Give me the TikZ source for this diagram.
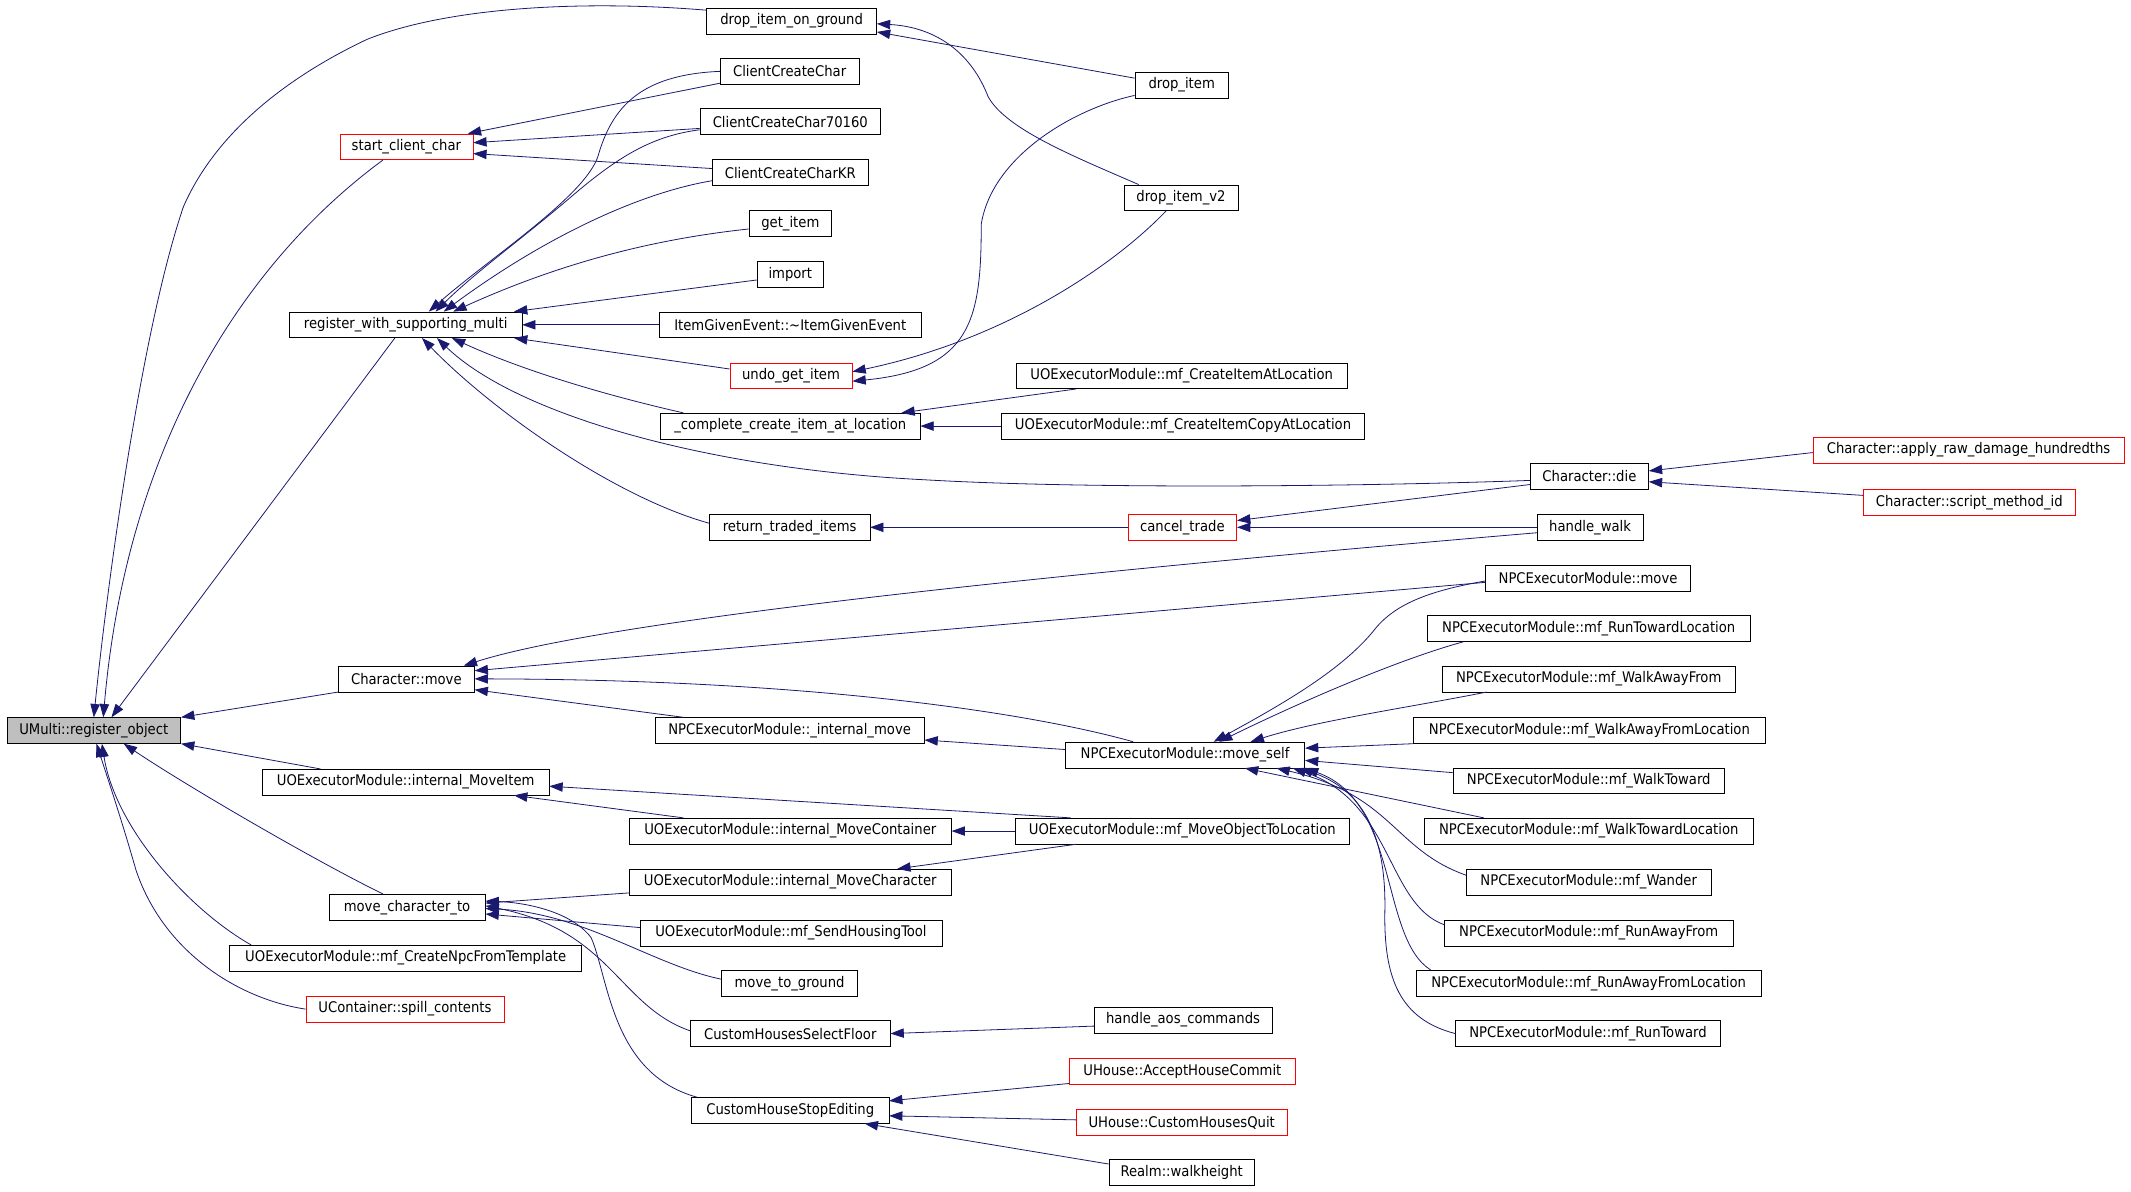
\documentclass[tikz,border=0pt]{standalone}
\usepackage{fontspec}
\setmainfont{DejaVu Sans Condensed}
\usetikzlibrary{arrows.meta,calc}
\definecolor{edgeblue}{RGB}{25,25,112}

\tikzset{
  fn/.style={draw=black, inner sep=0pt, minimum height=19.4pt, font=\fontsize{11}{13}\selectfont},
  bw/.style={minimum width=#1*1.0193pt},
  hot/.style={fn, draw=red},
  root/.style={fn, fill=black!25},
  call/.style={draw=edgeblue, line width=0.6pt, -{Triangle[length=10pt,width=7pt]}}
}

\begin{document}
\begin{tikzpicture}[x=1.0193pt, y=-1.0193pt]
\useasboundingbox (0,0) rectangle (1568,877);

% column 1 and 2
\node[root, bw=128] (regobj) at (69,537.5) {UMulti::register\_object};
\node[hot, bw=98] (startcc) at (299,108) {start\_client\_char};
\node[fn, bw=171] (rwsm) at (298.5,239) {register\_with\_supporting\_multi};
\node[fn, bw=100] (charmove) at (299,499.5) {Character::move};
\node[fn, bw=211] (moveitem) at (298.5,575.5) {UOExecutorModule::internal\_MoveItem};
\node[fn, bw=115] (mct) at (299.5,667.5) {move\_character\_to};
\node[fn, bw=259] (npctpl) at (298.5,705) {UOExecutorModule::mf\_CreateNpcFromTemplate};
\node[hot, bw=146] (spill) at (298,742.5) {UContainer::spill\_contents};

% column 3
\node[fn, bw=125] (dropground) at (582.5,15.5) {drop\_item\_on\_ground};
\node[fn, bw=102] (ccc) at (581,52.5) {ClientCreateChar};
\node[fn, bw=133] (ccc7) at (581.5,89.5) {ClientCreateChar70160};
\node[fn, bw=115] (ccckr) at (581.5,127) {ClientCreateCharKR};
\node[fn, bw=61] (getitem) at (581.5,164.5) {get\_item};
\node[fn, bw=49] (import) at (581.5,202) {import};
\node[fn, bw=193] (igev) at (581.5,239) {ItemGivenEvent::\textasciitilde ItemGivenEvent};
\node[hot, bw=90] (undoget) at (582,276.5) {undo\_get\_item};
\node[fn, bw=191] (ccial) at (581.5,313.5) {\_complete\_create\_item\_at\_location};
\node[fn, bw=118] (rti) at (581,388) {return\_traded\_items};
\node[fn, bw=198] (intmove) at (581,537.5) {NPCExecutorModule::\_internal\_move};
\node[fn, bw=237] (movecont) at (581.5,611.5) {UOExecutorModule::internal\_MoveContainer};
\node[fn, bw=237] (movechar) at (581.5,649) {UOExecutorModule::internal\_MoveCharacter};
\node[fn, bw=222] (sendtool) at (582,686.5) {UOExecutorModule::mf\_SendHousingTool};
\node[fn, bw=100] (mtg) at (581,723.5) {move\_to\_ground};
\node[fn, bw=147] (chsf) at (581.5,760.5) {CustomHousesSelectFloor};
\node[fn, bw=145] (chse) at (581.5,817) {CustomHouseStopEditing};

% column 4
\node[fn, bw=69] (dropitem) at (869.5,62.5) {drop\_item};
\node[fn, bw=84] (dropv2) at (869,145.5) {drop\_item\_v2};
\node[fn, bw=243] (mfcial) at (869.5,276.5) {UOExecutorModule::mf\_CreateItemAtLocation};
\node[fn, bw=267] (mfcicl) at (870.5,313.5) {UOExecutorModule::mf\_CreateItemCopyAtLocation};
\node[hot, bw=80] (canceltrade) at (870,388) {cancel\_trade};
\node[fn, bw=176] (moveself) at (872,555.5) {NPCExecutorModule::move\_self};
\node[fn, bw=246] (motl) at (870,611.5) {UOExecutorModule::mf\_MoveObjectToLocation};
\node[fn, bw=131] (aos) at (870.5,750.5) {handle\_aos\_commands};
\node[hot, bw=166] (accept) at (870,788.5) {UHouse::AcceptHouseCommit};
\node[hot, bw=155] (quit) at (869.5,826) {UHouse::CustomHousesQuit};
\node[fn, bw=107] (walkh) at (869.5,862.5) {Realm::walkheight};

% column 5 and 6
\node[fn, bw=87] (die) at (1169.5,350.5) {Character::die};
\node[fn, bw=78] (walk) at (1170,388) {handle\_walk};
\node[fn, bw=151] (npcmove) at (1168.5,425.5) {NPCExecutorModule::move};
\node[fn, bw=238] (rtl) at (1169,462.5) {NPCExecutorModule::mf\_RunTowardLocation};
\node[fn, bw=216] (waf) at (1169,499.5) {NPCExecutorModule::mf\_WalkAwayFrom};
\node[fn, bw=259] (wafl) at (1169.5,537.5) {NPCExecutorModule::mf\_WalkAwayFromLocation};
\node[fn, bw=200] (wt) at (1169,574.5) {NPCExecutorModule::mf\_WalkToward};
\node[fn, bw=242] (wtl) at (1169,611.5) {NPCExecutorModule::mf\_WalkTowardLocation};
\node[fn, bw=180] (wander) at (1169,649) {NPCExecutorModule::mf\_Wander};
\node[fn, bw=212] (raf) at (1169,686.5) {NPCExecutorModule::mf\_RunAwayFrom};
\node[fn, bw=254] (rafl) at (1169,723.5) {NPCExecutorModule::mf\_RunAwayFromLocation};
\node[fn, bw=195] (rt) at (1168.5,760.5) {NPCExecutorModule::mf\_RunToward};
\node[hot, bw=229] (rawdmg) at (1448.5,331) {Character::apply\_raw\_damage\_hundredths};
\node[hot, bw=156] (smid) at (1449,369.5) {Character::script\_method\_id};

% callers of register_object
\draw[call] ($(dropground.west)+(0,-8)$) .. controls (430,0) and (330,5) .. (270,29)
  .. controls (215,55) and (160,95) .. (135,152)
  .. controls (105,240) and (80,420) .. ($(regobj.north)+(0,0)$);
\draw[call] ($(startcc.south west)+(32,0)$) .. controls (170,200) and (92,340) .. ($(regobj.north)+(7,0)$);
\draw[call] ($(rwsm.south)+(-8,0)$) -- ($(regobj.north)+(13,0)$);
\draw[call] (charmove.south west) -- (regobj.north east);
\draw[call] ($(moveitem.north west)+(43,0)$) -- (regobj.south east);
\draw[call] ($(mct.north west)+(40,0)$) .. controls (235,635) and (140,580) .. ($(regobj.south)+(22,0)$);
\draw[call] ($(npctpl.north west)+(16,0)$) .. controls (140,670) and (85,610) .. ($(regobj.south)+(6,0)$);
\draw[call] (spill.west) .. controls (175,735) and (120,700) .. (100,640)
  .. controls (90,605) and (80,575) .. ($(regobj.south)+(2,0)$);

% callers of start_client_char
\draw[call] ($(ccc.south west)+(0,-1)$) -- ($(startcc.north east)+(-4,0)$);
\draw[call] ($(ccc7.west)+(0,5)$) -- ($(startcc.east)+(0,-3)$);
\draw[call] ($(ccckr.west)+(0,-3)$) -- ($(startcc.east)+(0,5)$);

% callers of register_with_supporting_multi
\draw[call] (ccc.west) .. controls (470,55) and (450,80) .. (440,115)
  .. controls (430,145) and (360,190) .. ($(rwsm.north)+(17,0)$);
\draw[call] ($(ccc7.west)+(0,6)$) .. controls (480,100) and (455,115) .. (420,145)
  .. controls (385,175) and (350,200) .. ($(rwsm.north)+(22,0)$);
\draw[call] ($(ccckr.west)+(0,6)$) .. controls (470,142) and (400,175) .. ($(rwsm.north)+(28,0)$);
\draw[call] ($(getitem.west)+(0,4)$) .. controls (490,175) and (420,190) .. ($(rwsm.north)+(35,0)$);
\draw[call] ($(import.west)+(0,4)$) -- ($(rwsm.north east)+(-6,0)$);
\draw[call] (igev.west) -- (rwsm.east);
\draw[call] ($(undoget.west)+(0,-5)$) -- ($(rwsm.south east)+(-6,0)$);
\draw[call] ($(ccial.north west)+(17,0)$) .. controls (455,293) and (390,275) .. ($(rwsm.south)+(34,0)$);
\draw[call] ($(die.west)+(0,3)$) .. controls (1000,358) and (800,360) .. (680,353)
  .. controls (520,345) and (380,305) .. ($(rwsm.south)+(23,0)$);
\draw[call] ($(rti.west)+(0,-3)$) .. controls (450,365) and (360,300) .. ($(rwsm.south)+(12,0)$);

% callers of drop_item_on_ground and undo_get_item
\draw[call] ($(dropitem.west)+(0,-5)$) -- ($(dropground.east)+(0,8)$);
\draw[call] ($(dropv2.north west)+(11,0)$) .. controls (790,115) and (740,95) .. (727,71)
  .. controls (715,40) and (690,20) .. ($(dropground.east)+(0,2)$);
\draw[call] ($(dropitem.south west)+(0,-2)$) .. controls (790,80) and (730,115) .. (722,165)
  .. controls (722,235) and (715,272) .. ($(undoget.east)+(0,4)$);
\draw[call] ($(dropv2.south)+(-11,0)$) .. controls (820,195) and (740,250) .. ($(undoget.east)+(0,-3)$);

% _complete_create_item_at_location, return_traded_items, cancel_trade, die
\draw[call] ($(mfcial.south west)+(44,0)$) -- ($(ccial.north east)+(-14,0)$);
\draw[call] (mfcicl.west) -- (ccial.east);
\draw[call] (canceltrade.west) -- (rti.east);
\draw[call] ($(die.west)+(0,6)$) -- ($(canceltrade.east)+(0,-5)$);
\draw[call] (walk.west) -- (canceltrade.east);
\draw[call] ($(rawdmg.west)+(0,2)$) -- ($(die.east)+(0,-4)$);
\draw[call] ($(smid.west)+(0,-5)$) -- ($(die.east)+(0,4)$);

% callers of Character::move
\draw[call] ($(walk.west)+(0,4)$) .. controls (800,420) and (450,455) .. ($(charmove.north east)+(-8,0)$);
\draw[call] ($(npcmove.west)+(0,3)$) -- ($(charmove.east)+(0,-6)$);
\draw[call] ($(moveself.north west)+(50,0)$) .. controls (760,525) and (600,500) .. (charmove.east);
\draw[call] ($(intmove.north west)+(21,0)$) -- ($(charmove.east)+(0,8)$);
\draw[call] ($(moveself.west)+(0,-4)$) -- ($(intmove.east)+(0,7)$);

% callers of move_self
\draw[call] ($(npcmove.west)+(0,2)$) .. controls (1050,435) and (1025,445) .. (1010,465)
  .. controls (985,495) and (940,520) .. ($(moveself.north)+(21,0)$);
\draw[call] ($(rtl.south west)+(27,0)$) .. controls (1030,485) and (960,515) .. ($(moveself.north)+(25,0)$);
\draw[call] ($(waf.south west)+(33,0)$) .. controls (1040,520) and (970,530) .. ($(moveself.north east)+(-40,0)$);
\draw[call] (wafl.south west) -- ($(moveself.east)+(0,-5)$);
\draw[call] ($(wt.west)+(0,-6)$) -- ($(moveself.east)+(0,4)$);
\draw[call] ($(wtl.north west)+(44,0)$) -- ($(moveself.south)+(44,0)$);
\draw[call] ($(wander.west)+(0,-5)$) .. controls (1025,625) and (1025,585) .. ($(moveself.south east)+(-21,0)$);
\draw[call] ($(raf.west)+(0,-6)$) .. controls (1020,665) and (1025,590) .. ($(moveself.south east)+(-9,0)$);
\draw[call] ($(rafl.north west)+(11,0)$) .. controls (1015,690) and (1030,590) .. (moveself.south east);
\draw[call] (rt.west) .. controls (1030,750) and (1018,720) .. (1019,670)
  .. controls (1020,610) and (1000,580) .. ($(moveself.south east)+(-4,0)$);

% internal_MoveItem and friends
\draw[call] ($(motl.north west)+(41,0)$) -- ($(moveitem.east)+(0,3)$);
\draw[call] ($(movecont.north west)+(40,0)$) -- ($(moveitem.south east)+(-26,0)$);
\draw[call] (motl.west) -- (movecont.east);
\draw[call] ($(motl.south west)+(45,0)$) -- ($(movechar.north east)+(-40,0)$);

% callers of move_character_to
\draw[call] ($(movechar.west)+(0,8)$) -- ($(mct.east)+(0,-3)$);
\draw[call] ($(sendtool.west)+(0,-4)$) -- ($(mct.east)+(0,5)$);
\draw[call] ($(mtg.west)+(0,-3)$) .. controls (480,710) and (430,672) .. ($(mct.east)+(0,1)$);
\draw[call] ($(chsf.west)+(0,-2)$) .. controls (455,740) and (450,685) .. ($(mct.east)+(0,-1)$);
\draw[call] ($(chse.north west)+(4,0)$) .. controls (450,790) and (448,720) .. (435,690)
  .. controls (420,670) and (385,664) .. ($(mct.east)+(0,-4.5)$);

% housing callers
\draw[call] ($(aos.west)+(0,4.5)$) -- (chsf.east);
\draw[call] ($(accept.south west)+(0,-1)$) -- ($(chse.east)+(0,-7)$);
\draw[call] ($(quit.west)+(0,-2)$) -- ($(chse.east)+(0,4)$);
\draw[call] ($(walkh.west)+(0,-6)$) -- ($(chse.south east)+(-18,0)$);

\end{tikzpicture}
\end{document}
